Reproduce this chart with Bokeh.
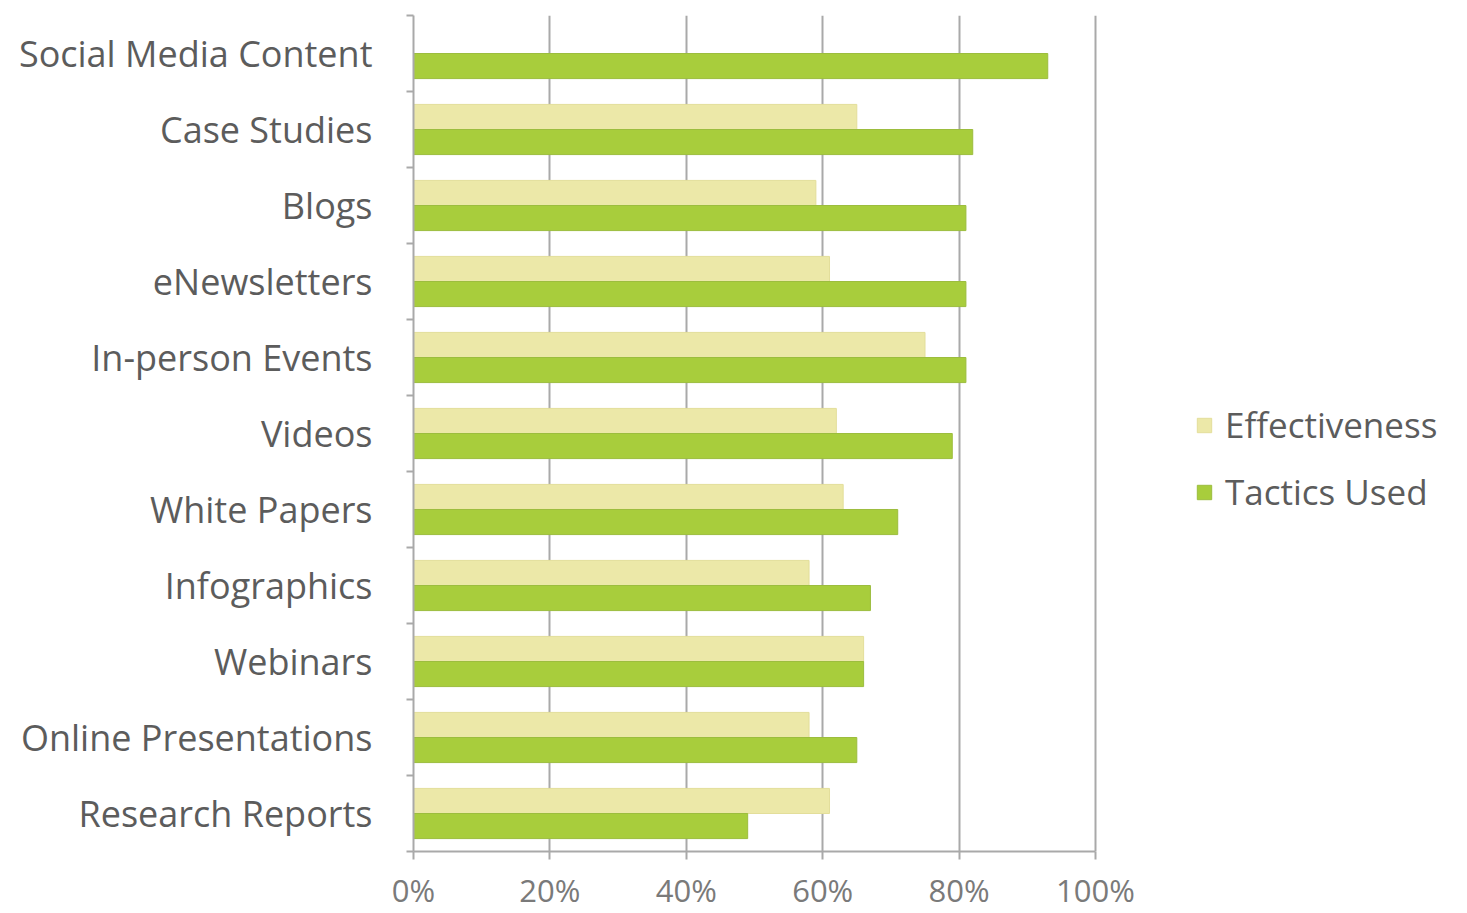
from bokeh.plotting import figure
from bokeh.models import (Range1d, LinearAxis, FixedTicker,
                          ColumnDataSource, Legend, LegendItem, PrintfTickFormatter)
from bokeh.transform import dodge
from bokeh.embed import file_html
from bokeh.resources import INLINE

categories = ["Social Media Content", "Case Studies", "Blogs", "eNewsletters",
              "In-person Events", "Videos", "White Papers", "Infographics",
              "Webinars", "Online Presentations", "Research Reports"]
effectiveness = [0, 65, 59, 61, 75, 62, 63, 58, 66, 58, 61]
tactics_used = [93, 82, 81, 81, 81, 79, 71, 67, 66, 65, 49]
x_ticks = [0, 20, 40, 60, 80, 100]

FONT = "Open Sans"
GRID = "#a9a9a9"
LIGHT = "#ece8a8"
DARK = "#a8cd3c"

n = len(categories)
ypos = [n - i - 0.5 for i in range(n)]          # band centres, first category on top
bounds = list(range(n + 1))                      # band boundaries

src = ColumnDataSource(dict(y=ypos, cat=categories, eff=effectiveness, tac=tactics_used))

# frame spans to the right edge so the legend sits inside it; 0..100 occupies 682 px
x_end = 100 * (1467 - 413) / 682

p = figure(width=1467, height=913, output_backend="svg", toolbar_location=None,
           y_range=Range1d(0, n), x_range=Range1d(0, x_end),
           x_axis_location=None, y_axis_location=None,
           min_border_left=413, min_border_right=0, min_border_top=15,
           min_border_bottom=61)
p.outline_line_color = None
p.background_fill_color = "white"
p.border_fill_color = "white"

r_eff = p.hbar(y=dodge("y", 0.165), right="eff", left=0, height=0.33,
               source=src, fill_color=LIGHT, line_color="#e3de9a", line_width=1)
r_tac = p.hbar(y=dodge("y", -0.165), right="tac", left=0, height=0.33,
               source=src, fill_color=DARK, line_color="#9cbd3e", line_width=1)

# x axis
xaxis = LinearAxis(ticker=FixedTicker(ticks=x_ticks), bounds=(0, 100),
                   formatter=PrintfTickFormatter(format="%d%%"))
xaxis.axis_line_color = GRID
xaxis.axis_line_width = 2
xaxis.major_tick_line_color = GRID
xaxis.major_tick_line_width = 2
xaxis.major_tick_out = 8
xaxis.major_tick_in = 0
xaxis.minor_tick_line_color = None
xaxis.major_label_text_font = FONT
xaxis.major_label_text_font_size = "31px"
xaxis.major_label_text_color = "#7a7a7a"
xaxis.major_label_standoff = 9
p.add_layout(xaxis, "below")

# y axis: labels at band centres, ticks at band boundaries
yaxis = LinearAxis(ticker=FixedTicker(ticks=ypos, minor_ticks=bounds))
yaxis.major_label_overrides = {y: c for y, c in zip(ypos, categories)}
yaxis.axis_line_color = GRID
yaxis.axis_line_width = 2
yaxis.major_tick_line_color = None
yaxis.major_tick_out = 0
yaxis.major_tick_in = 0
yaxis.minor_tick_line_color = GRID
yaxis.minor_tick_line_width = 2
yaxis.minor_tick_out = 7
yaxis.minor_tick_in = 0
yaxis.major_label_text_font = FONT
yaxis.major_label_text_font_size = "36px"
yaxis.major_label_text_color = "#5c5c5c"
yaxis.major_label_standoff = 34
p.add_layout(yaxis, "left")

# grid
p.xgrid.ticker = FixedTicker(ticks=x_ticks[1:])
p.xgrid.grid_line_color = GRID
p.xgrid.grid_line_width = 2
p.ygrid.grid_line_color = None

legend = Legend(items=[LegendItem(label="Effectiveness", renderers=[r_eff]),
                       LegendItem(label="Tactics Used", renderers=[r_tac])],
                location=(782, 336))
legend.label_text_font = FONT
legend.label_text_font_size = "35px"
legend.label_text_color = "#5c5c5c"
legend.glyph_width = 18
legend.glyph_height = 18
legend.label_standoff = 12
legend.spacing = 20
legend.padding = 0
legend.margin = 0
legend.border_line_color = None
legend.background_fill_alpha = 0
p.add_layout(legend, "center")

open("out.html", "w").write(file_html(p, INLINE))
